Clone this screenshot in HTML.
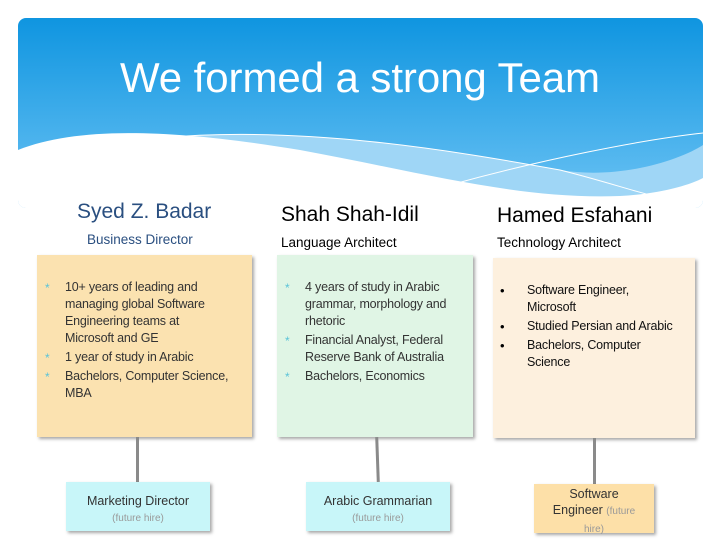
<!DOCTYPE html>
<html><head><meta charset="utf-8"><style>
body{margin:0;width:720px;height:540px;background:#fff;position:relative;overflow:hidden;font-family:"Liberation Sans",sans-serif;}
.a{position:absolute;}
.box{position:absolute;box-shadow:2px 2px 3px rgba(0,0,0,0.35);}
ul{margin:0;padding:0;list-style:none;}
li{position:relative;padding-left:28px;font-size:12.5px;line-height:17px;color:#333;margin-bottom:2px;letter-spacing:-0.2px;}
li:before{content:"*";position:absolute;left:8px;top:1px;color:#5bc3d8;font-size:12px;}
.dot li:before{content:"•";color:#000;left:7px;top:0;font-size:13px;}
.dot li{padding-left:34px;color:#111;}
.sub{text-align:center;font-size:12.5px;color:#333;line-height:16px;}
.sub span{color:#999;font-size:10px;}
.ln{position:absolute;width:3px;background:#8a8a8a;}
</style></head><body>
<svg class="a" style="left:0;top:0" width="720" height="210">
<defs><linearGradient id="g" x1="0" y1="0" x2="0" y2="1"><stop offset="0" stop-color="#0f95e0"/><stop offset="1" stop-color="#6cc3f4"/></linearGradient>
<clipPath id="c"><rect x="18" y="18" width="685" height="190" rx="8"/></clipPath></defs>
<g clip-path="url(#c)">
<rect x="18" y="18" width="685" height="190" fill="url(#g)"/>
<path d="M160 138 C300 125 450 150 560 170 C620 180 680 160 703 145 L703 210 L160 210Z" fill="#9fd6f6"/>
<path d="M18 150 C80 125 180 130 300 150 C420 172 520 200 620 196 C660 194 690 185 703 178 L703 210 L18 210Z" fill="#fff"/>
<path d="M160 138 C300 125 450 150 560 170 C600 180 630 190 650 195" stroke="#fff" stroke-width="1" fill="none"/>
<path d="M450 185 C540 160 640 140 703 133" stroke="#fff" stroke-width="1" fill="none"/>
</g>
<text x="360" y="92" text-anchor="middle" fill="#fff" font-size="42" textLength="480" font-family="Liberation Sans,sans-serif">We formed a strong Team</text>
</svg>
<div class="a" style="left:77px;top:200px;font-size:21px;color:#2a4f80">Syed Z. Badar</div>
<div class="a" style="left:87px;top:232px;font-size:13.5px;color:#2a4f80">Business Director</div>
<div class="a" style="left:281px;top:203px;font-size:21px;color:#000">Shah Shah-Idil</div>
<div class="a" style="left:281px;top:235px;font-size:13.5px;color:#000">Language Architect</div>
<div class="a" style="left:497px;top:204px;font-size:21px;color:#000">Hamed Esfahani</div>
<div class="a" style="left:497px;top:235px;font-size:13.5px;color:#000">Technology Architect</div>
<div class="box" style="left:37px;top:255px;width:215px;height:182px;background:#fbe2b0"><ul style="margin-top:24px;width:190px">
<li>10+ years of leading and managing global Software Engineering teams at Microsoft and GE</li><li>1 year of study in Arabic</li><li style="white-space:nowrap">Bachelors, Computer Science,<br>MBA</li></ul></div>
<div class="box" style="left:277px;top:255px;width:196px;height:182px;background:#e0f5e5"><ul style="margin-top:24px;width:192px">
<li>4 years of study in Arabic grammar, morphology and rhetoric</li><li>Financial Analyst, Federal Reserve Bank of Australia</li><li>Bachelors, Economics</li></ul></div>
<div class="box dot" style="left:493px;top:258px;width:202px;height:180px;background:#fdf0de"><ul style="margin-top:24px;width:180px">
<li>Software Engineer, Microsoft</li><li>Studied Persian and Arabic</li><li>Bachelors, Computer Science</li></ul></div>
<div class="ln" style="left:136px;top:437px;height:45px"></div>
<div class="ln" style="left:376px;top:437px;height:45px;transform:rotate(-2deg)"></div>
<div class="ln" style="left:593px;top:438px;height:46px"></div>
<div class="box" style="left:66px;top:482px;width:144px;height:49px;background:#c8f6f9"><div class="sub" style="margin-top:11px">Marketing Director<br><span>(future hire)</span></div></div>
<div class="box" style="left:306px;top:482px;width:144px;height:49px;background:#c8f6f9"><div class="sub" style="margin-top:11px">Arabic Grammarian<br><span>(future hire)</span></div></div>
<div class="box" style="left:534px;top:484px;width:120px;height:49px;background:#fde0a8"><div class="sub" style="margin-top:2px">Software<br>Engineer <span>(future<br>hire)</span></div></div>
</body></html>
